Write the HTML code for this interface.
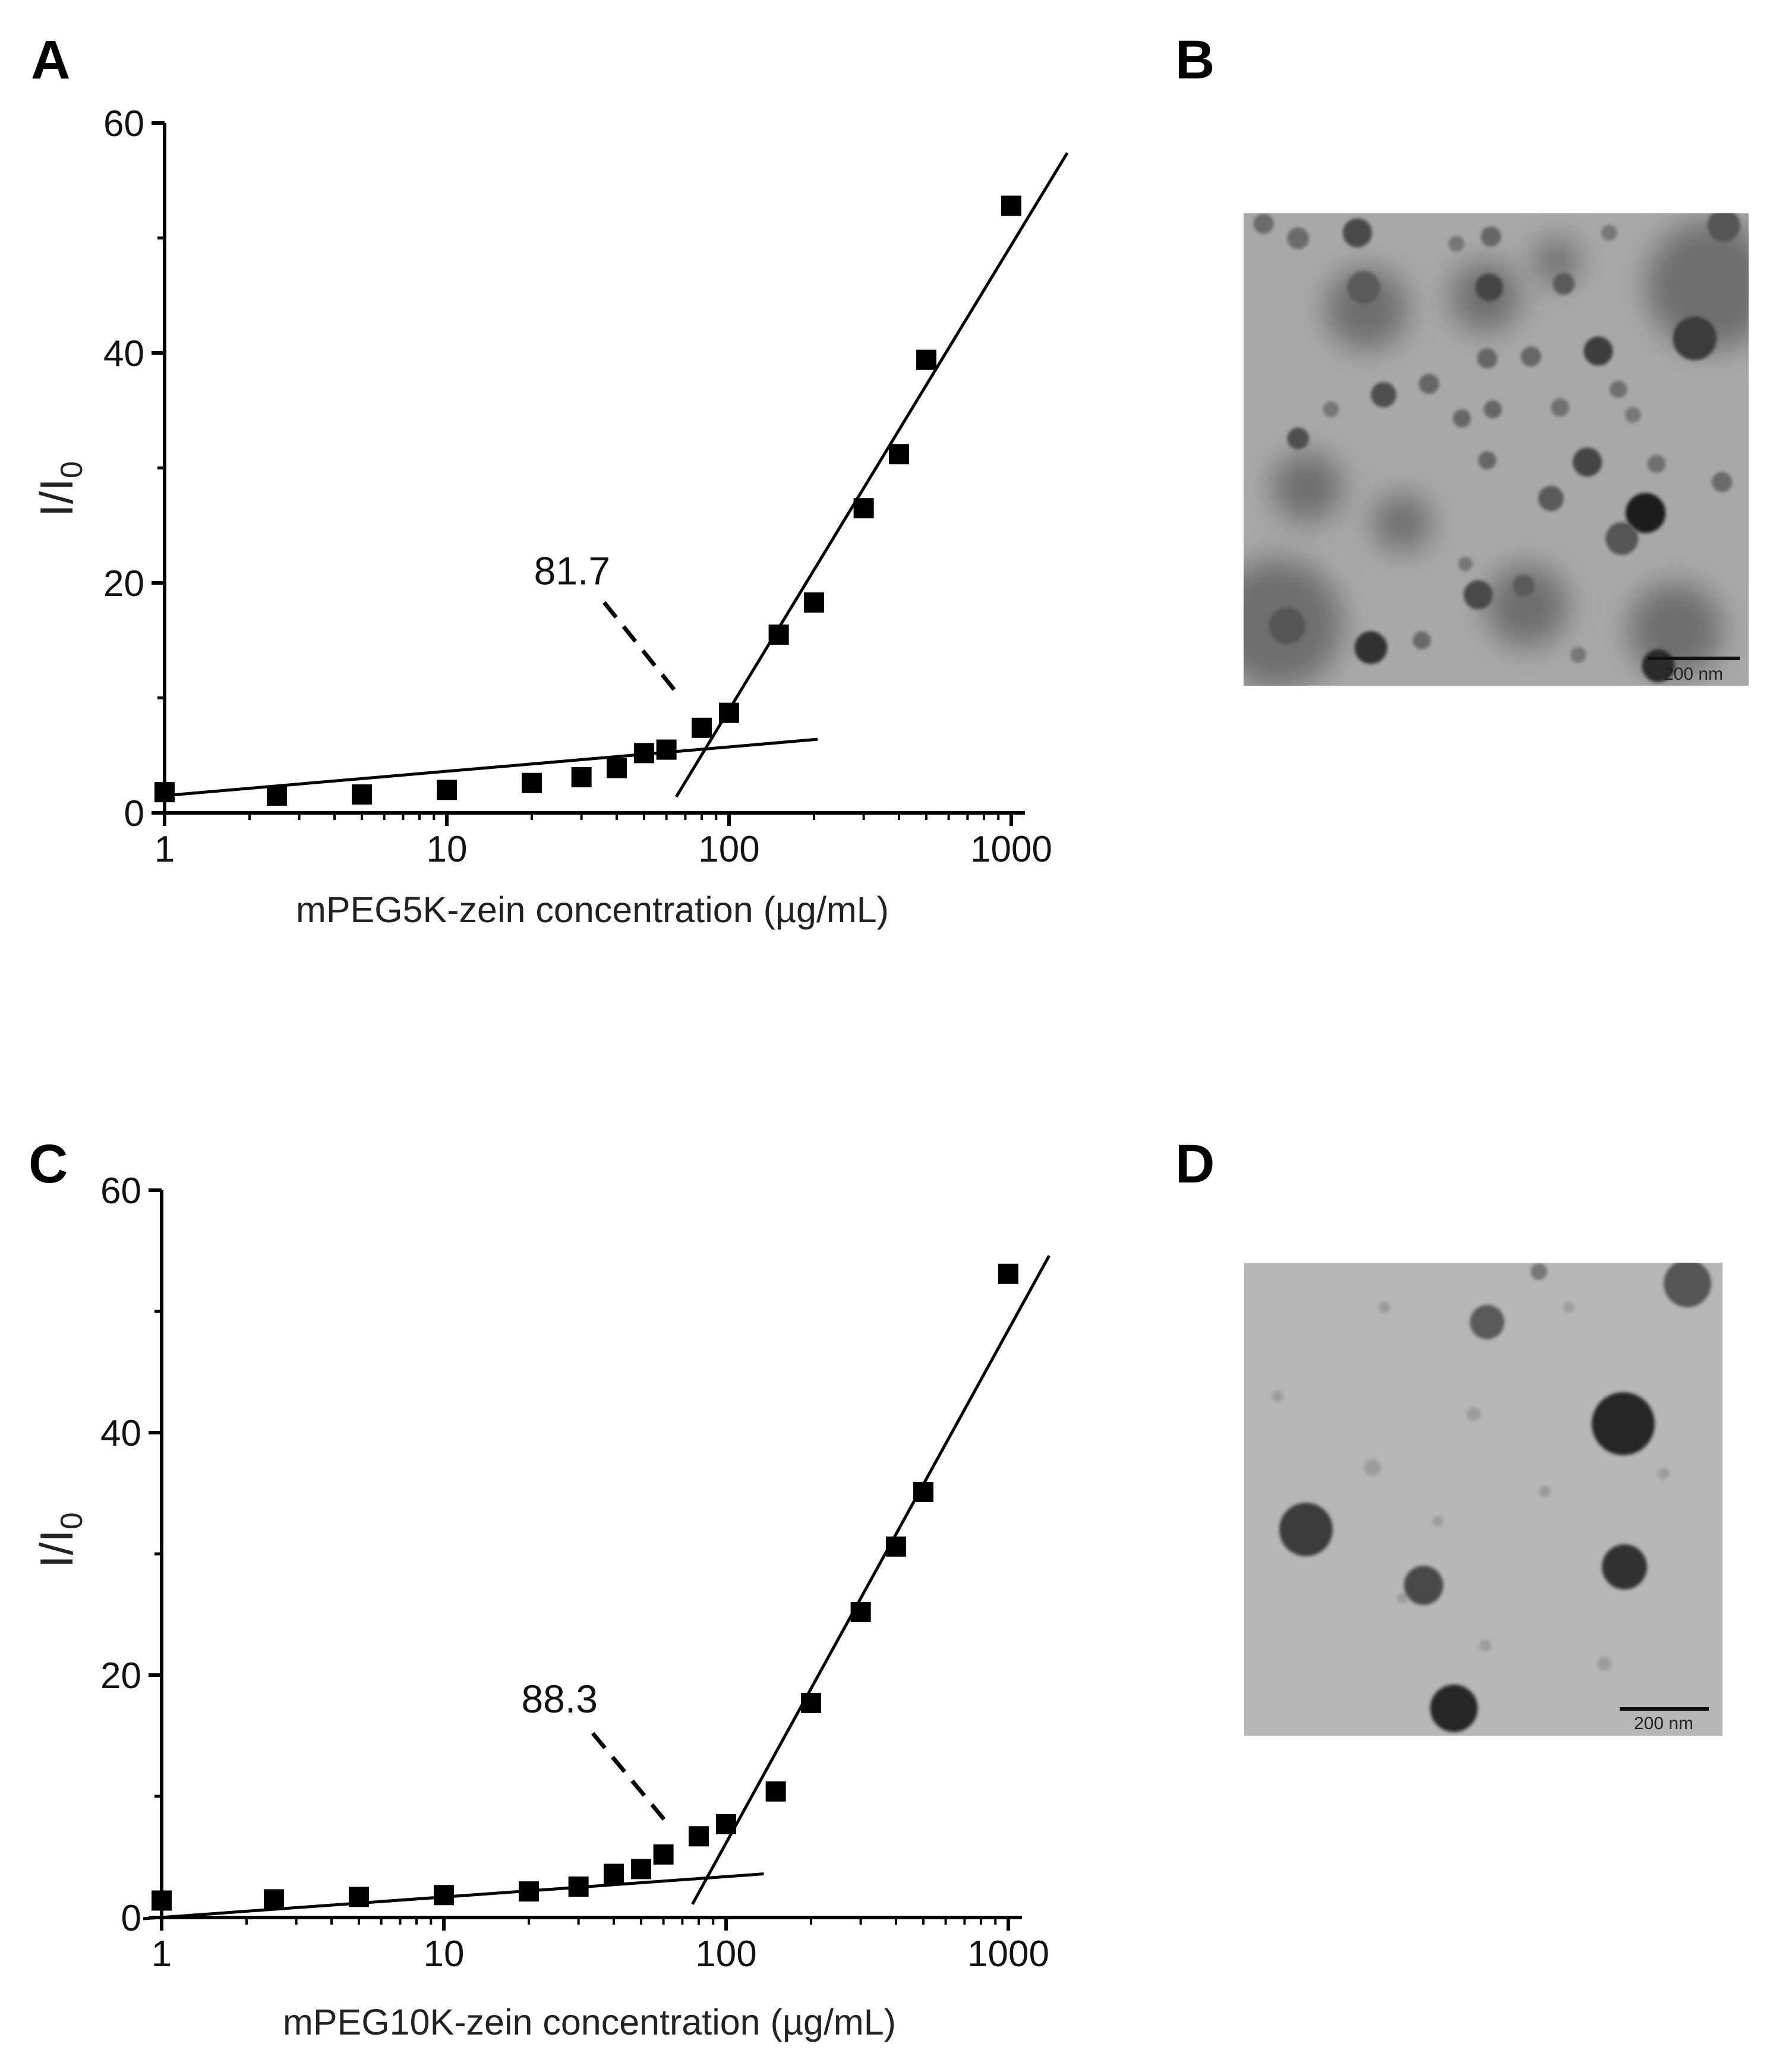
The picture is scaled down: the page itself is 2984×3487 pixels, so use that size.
<!DOCTYPE html>
<html><head><meta charset="utf-8"><style>
html,body{margin:0;padding:0;background:#fff;}
svg{display:block;font-family:"Liberation Sans",Arial,sans-serif;}
</style></head><body>
<svg id="fig" width="2984" height="3487" viewBox="0 0 2984 3487" xmlns="http://www.w3.org/2000/svg">
<defs>
<filter id="blur25" x="-100%" y="-100%" width="300%" height="300%"><feGaussianBlur stdDeviation="25"/></filter>
<filter id="blur3" x="-50%" y="-50%" width="200%" height="200%"><feGaussianBlur stdDeviation="3"/></filter>
<clipPath id="clipB"><rect x="2093" y="359" width="850" height="795"/></clipPath>
<clipPath id="clipD"><rect x="2094" y="2125" width="805" height="796"/></clipPath>
</defs>
<text x="52" y="132" font-size="92" font-weight="bold">A</text>
<text x="1978" y="132" font-size="92" font-weight="bold">B</text>
<text x="48" y="1990" font-size="92" font-weight="bold">C</text>
<text x="1978" y="1990" font-size="92" font-weight="bold">D</text>
<g id="chartA"></g>
<g id="chartC"></g>
<g id="temB" clip-path="url(#clipB)"></g>
<g id="temD" clip-path="url(#clipD)"></g>
</svg>
<script>
// ---- Data ----
const concA = [1,2.5,5,10,20,30,40,50,60,80,100,150,200,300,400,500,1000];
const ratioA = [1.8,1.5,1.6,2.0,2.6,3.1,3.9,5.2,5.5,7.4,8.7,15.5,18.3,26.5,31.2,39.4,52.8];
const concC = [1,2.5,5,10,20,30,40,50,60,80,100,150,200,300,400,500,1000];
const ratioC = [1.4,1.5,1.7,1.85,2.15,2.55,3.6,4.0,5.2,6.7,7.7,10.4,17.7,25.2,30.6,35.1,53.1];
const yTicks = [0,20,40,60];
const xTicks = [1,10,100,1000];
// fit lines: [x1, y1, x2, y2] in data units
const lowFitA = [1,1.5,206,6.4];
const highFitA = [65,1.4,1579,57.4];
const dashA = [36.1,18.3,65,10.5];
const cmcA = ["81.7", 27.8, 21.1];
const lowFitC = [0.86,-0.1,136,3.6];
const highFitC = [76,1.1,1396,54.6];
const dashC = [33.7,15.2,62.8,7.6];
const cmcC = ["88.3", 25.7, 18.1];

const NS = "http://www.w3.org/2000/svg";
function mk(parent, tag, attrs){
  const e = document.createElementNS(NS, tag);
  for (const k in attrs) e.setAttribute(k, attrs[k]);
  parent.appendChild(e);
  return e;
}

function drawChart(gid, cfg){
  const g = document.getElementById(gid);
  const X = v => cfg.x0 + cfg.dec * Math.log10(v);
  const Y = v => cfg.y0 - (cfg.y0 - cfg.y60) * v / 60;
  const ya = mk(g,'line',{x1:cfg.x0,y1:Y(60),x2:cfg.x0,y2:cfg.y0+22,stroke:'#000','stroke-width':6});
  
  
  const xa = mk(g,'line',{x1:cfg.x0-22,y1:cfg.y0,x2:cfg.xEnd,y2:cfg.y0,stroke:'#000','stroke-width':6});
  
  
  yTicks.forEach(t=>{
    const l = mk(g,'line',{x1:cfg.x0-22,y1:Y(t),x2:cfg.x0,y2:Y(t),stroke:'#000','stroke-width':6});
    
    
    const tx = mk(g,'text',{x:cfg.x0-34,y:Y(t)+22,'font-size':62,'text-anchor':'end',fill:'#111'});
    tx.textContent = t;
    
    
  });
  [10,30,50].forEach(t=>{
    const l = mk(g,'line',{x1:cfg.x0-12,y1:Y(t),x2:cfg.x0,y2:Y(t),stroke:'#000','stroke-width':5});
    
    
  });
  xTicks.forEach(t=>{
    const l = mk(g,'line',{x1:X(t),y1:cfg.y0,x2:X(t),y2:cfg.y0+22,stroke:'#000','stroke-width':6});
    
    
    const tx = mk(g,'text',{x:X(t),y:cfg.y0+82,'font-size':62,'text-anchor':'middle',fill:'#111'});
    tx.textContent = t;
    
    
  });
  for (let d=1; d<=100; d*=10){
    for (let m=2; m<=9; m++){
      const l = mk(g,'line',{x1:X(d*m),y1:cfg.y0,x2:X(d*m),y2:cfg.y0+12,stroke:'#000','stroke-width':4});
      
      
    }
  }
  const xt = mk(g,'text',{x:cfg.xLabelX,y:cfg.xLabelY,'font-size':61,'text-anchor':'middle',fill:'#222'});
  xt.textContent = cfg.xLabel;
  
  
  const yt = mk(g,'text',{transform:`translate(${cfg.yLabelX},${cfg.yLabelY}) rotate(-90)`,'font-size':78,'text-anchor':'middle',fill:'#222'});
  yt.innerHTML = 'I/I<tspan font-size="52" dy="16">0</tspan>';
  
  
  [cfg.low, cfg.high].forEach((f,i)=>{
    const l = mk(g,'line',{x1:X(f[0]),y1:Y(f[1]),x2:X(f[2]),y2:Y(f[3]),stroke:'#000','stroke-width':5});
    
    
  });
  const dl = mk(g,'line',{x1:X(cfg.dash[0]),y1:Y(cfg.dash[1]),x2:X(cfg.dash[2]),y2:Y(cfg.dash[3]),stroke:'#000','stroke-width':7,'stroke-dasharray':'32 20'});
  
  
  const ct = mk(g,'text',{x:X(cfg.cmc[1]),y:Y(cfg.cmc[2])+24,'font-size':66,'text-anchor':'middle',fill:'#111'});
  ct.textContent = cfg.cmc[0];
  
  
  cfg.xs.forEach((v,i)=>{
    const s = 34;
    const r = mk(g,'rect',{x:X(v)-s/2,y:Y(cfg.ys[i])-s/2,width:s,height:s,fill:'#000'});
    
    
  });
}

drawChart('chartA',{x0:277,dec:475,y0:1368,y60:207,xEnd:1725,xs:concA,ys:ratioA,
  low:lowFitA,high:highFitA,dash:dashA,cmc:cmcA,
  xLabel:'mPEG5K-zein concentration (µg/mL)',xLabelX:997,xLabelY:1552,yLabelX:122,yLabelY:823});
drawChart('chartC',{x0:272,dec:475,y0:3227,y60:2003,xEnd:1720,xs:concC,ys:ratioC,
  low:lowFitC,high:highFitC,dash:dashC,cmc:cmcC,
  xLabel:'mPEG10K-zein concentration (µg/mL)',xLabelX:992,xLabelY:3424,yLabelX:122,yLabelY:2592});

// ---- TEM images (approximate) ----
const gB = document.getElementById('temB');
let bg = mk(gB,'rect',{x:2093,y:359,width:850,height:795,fill:'#a9a9a9'});


const cloudsB = [[2150,1050,110],[2880,480,110],[2300,520,70],[2500,500,60],[2200,820,60],[2570,1020,70],[2820,1060,80],[2360,880,50],[2620,440,40]];
cloudsB.forEach(c=>{
  const e = mk(gB,'circle',{cx:c[0],cy:c[1],r:c[2],fill:'#6e6e6e',filter:'url(#blur25)'});
  
  
});
const dotsB = [[383,150,40,'#4a4a4a'],[220,165,30,'#6a6a6a'],[745,300,38,'#454545'],[1045,475,40,'#3e3e3e'],[455,595,35,'#505050'],[220,715,30,'#505050'],[1015,780,40,'#454545'],[1175,920,55,'#1c1c1c'],[1110,990,45,'#555'],[420,1290,45,'#333'],[1210,1340,45,'#2a2a2a'],[580,565,28,'#666'],[670,660,25,'#666'],[740,495,28,'#666'],[860,490,28,'#666'],[1385,835,28,'#6a6a6a'],[740,775,25,'#666'],[940,630,25,'#707070'],[1100,580,24,'#707070'],[1140,650,22,'#777'],[310,635,22,'#777'],[755,635,25,'#666'],[915,880,35,'#5a5a5a'],[715,1145,40,'#4a4a4a'],[840,1120,30,'#5a5a5a'],[125,125,28,'#6a6a6a'],[655,180,22,'#777'],[750,160,28,'#666'],[1075,150,22,'#777'],[950,290,30,'#5a5a5a'],[1205,785,25,'#707070'],[1390,130,45,'#555'],[1310,440,60,'#3a3a3a'],[560,1270,25,'#6a6a6a'],[990,1310,22,'#777'],[680,1060,20,'#777'],[400,300,45,'#5a5a5a'],[190,1230,50,'#555'],[1470,1440,20,'#222']];
dotsB.forEach(d=>{
  const e = mk(gB,'circle',{cx:2050+d[0]/1.633,cy:300+d[1]/1.633,r:d[2]/1.633,fill:d[3],filter:'url(#blur3)'});
  
  
});
let sb = mk(gB,'rect',{x:2773,y:1105,width:155,height:6,fill:'#111'});


let st = mk(gB,'text',{x:2850,y:1144,'font-size':30,'text-anchor':'middle',fill:'#222'});
st.textContent='200 nm';



const gD = document.getElementById('temD');
bg = mk(gD,'rect',{x:2094,y:2125,width:805,height:796,fill:'#b7b7b7'});


const faintD = [[2330,2200,10],[2480,2380,12],[2310,2470,14],[2600,2510,10],[2420,2560,9],[2150,2350,10],[2700,2800,12],[2500,2770,10],[2640,2200,9],[2360,2690,9],[2800,2480,10]];
faintD.forEach(d=>{
  const e = mk(gD,'circle',{cx:d[0],cy:d[1],r:d[2],fill:'#9c9c9c',filter:'url(#blur3)'});
  
  
});
const dotsD = [[2732,2396,53,'#262626'],[2198,2574,45,'#3a3a3a'],[2734,2637,38,'#333'],[2396,2668,33,'#4a4a4a'],[2447,2875,40,'#262626'],[2503,2225,29,'#5a5a5a'],[2840,2160,40,'#555'],[2590,2140,14,'#777']];
dotsD.forEach(d=>{
  const e = mk(gD,'circle',{cx:d[0],cy:d[1],r:d[2],fill:d[3],filter:'url(#blur3)'});
  
  
});
sb = mk(gD,'rect',{x:2726,y:2873,width:150,height:6,fill:'#111'});


st = mk(gD,'text',{x:2800,y:2910,'font-size':30,'text-anchor':'middle',fill:'#222'});
st.textContent='200 nm';


</script>
</body></html>
